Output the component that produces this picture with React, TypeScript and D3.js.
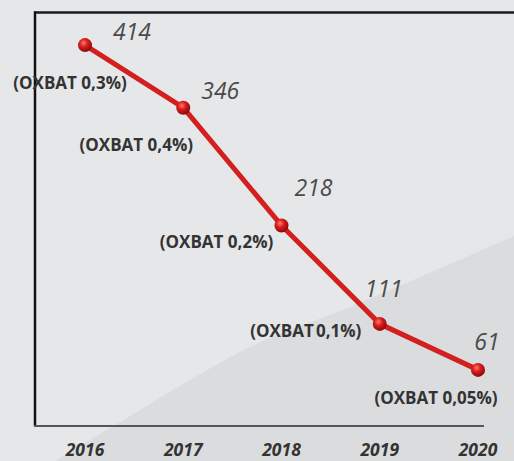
import React from "react";
import * as d3 from "d3";

const years = ["2016", "2017", "2018", "2019", "2020"];
const values = [414, 346, 218, 111, 61];
const shareLabels = ["(OXBAT 0,3%)", "(OXBAT 0,4%)", "(OXBAT 0,2%)", "(OXBAT\u202F0,1%)", "(OXBAT 0,05%)"];
const shareOffsets = [
  [-15, 39],
  [-47, 39],
  [-65, 18],
  [-74, 9],
  [-42, 30],
];
const valueOffsets = [
  [47, -5],
  [37, -9],
  [32, -29],
  [4, -27],
  [9, -20],
];

const W = 514;
const H = 461;

const shadePts: [number, number][] = [
  [40, 470],
  [115, 425],
  [250, 347],
  [350, 307],
  [514, 236],
];

export default function App() {
  const x = d3.scalePoint<string>().domain(years).range([85, 478]);
  const y = d3.scaleLinear().domain([0, 450]).range([426, 12]);
  const line = d3
    .line<number>()
    .x((_, i) => x(years[i])!)
    .y((d) => y(d));
  const shadeLine = d3.line().curve(d3.curveCatmullRom)(shadePts) ?? "";
  const shade = shadeLine + " L514,470 L40,470 Z";

  return (
    <svg
      width={W}
      height={H}
      style={{ position: "absolute", left: 0, top: 0, display: "block" }}
      fontFamily="'Open Sans', sans-serif"
    >
      <defs>
        <radialGradient id="ball" cx="40%" cy="35%" r="65%">
          <stop offset="0%" stopColor="#ff7a6a" />
          <stop offset="45%" stopColor="#d81c1c" />
          <stop offset="100%" stopColor="#8a0a0a" />
        </radialGradient>
      </defs>
      <rect x={0} y={0} width={W} height={H} fill="#e6e7e8" />
      <path d={shade} fill="#dbdcde" />

      {/* frame */}
      <line x1={34} y1={12.5} x2={W} y2={12.5} stroke="#1a1a1a" strokeWidth={2.5} />
      <line x1={35} y1={11.5} x2={35} y2={y(0)} stroke="#111" strokeWidth={2.5} />
      <line x1={34} y1={y(0)} x2={484} y2={y(0)} stroke="#555" strokeWidth={2} />

      {/* line */}
      <path
        d={line(values) ?? ""}
        fill="none"
        stroke="#d41f1f"
        strokeWidth={5}
        strokeLinejoin="round"
      />
      {values.map((v, i) => (
        <circle key={i} cx={x(years[i])} cy={y(v)} r={7} fill="url(#ball)" />
      ))}

      {/* value labels */}
      {values.map((v, i) => (
        <text
          key={"v" + i}
          x={x(years[i])! + valueOffsets[i][0]}
          y={y(v) + valueOffsets[i][1]}
          textAnchor="middle"
          fontStyle="italic"
          fontSize={23}
          fill="#4a4a4a"
        >
          {v}
        </text>
      ))}

      {/* share labels */}
      {values.map((v, i) => (
        <text
          key={"s" + i}
          x={x(years[i])! + shareOffsets[i][0]}
          y={y(v) + shareOffsets[i][1]}
          textAnchor="middle"
          fontWeight={700}
          fontSize={17}
          fill="#333"
          dominantBaseline="middle"
        >
          {shareLabels[i]}
        </text>
      ))}

      {/* year labels */}
      {years.map((yr) => (
        <text
          key={yr}
          x={x(yr)}
          y={456}
          textAnchor="middle"
          fontStyle="italic"
          fontWeight={700}
          fontSize={17.5}
          fill="#333"
        >
          {yr}
        </text>
      ))}
    </svg>
  );
}
